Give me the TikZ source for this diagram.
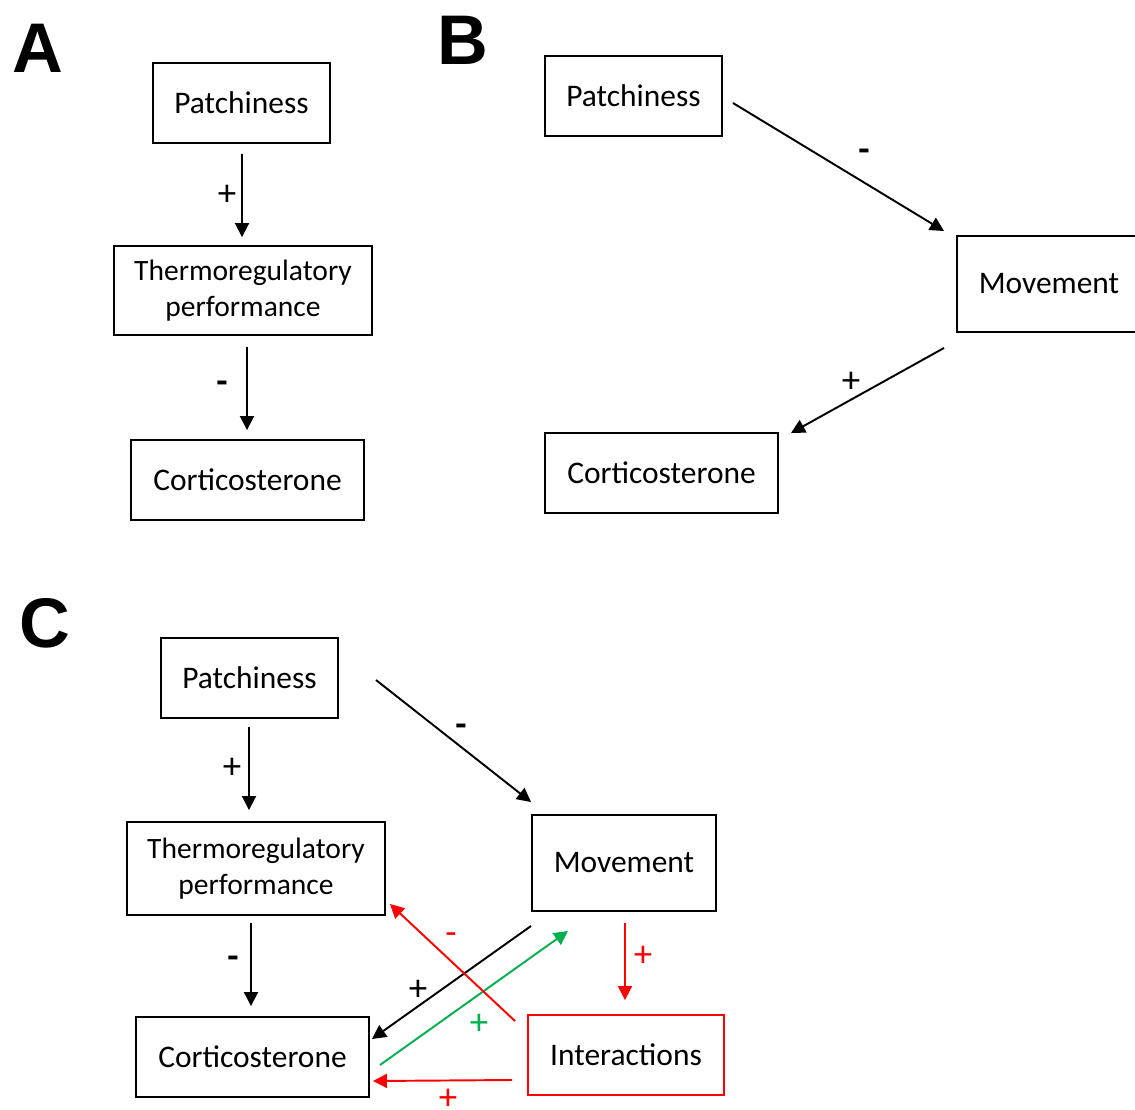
\documentclass[tikz,border=0pt]{standalone}
\usepackage{fontspec}
\setmainfont{Carlito}
\newfontfamily\panelfont{Liberation Sans}
\usetikzlibrary{arrows.meta}
\definecolor{posgreen}{RGB}{0,176,80}
\tikzset{
  box/.style={draw, line width=1.1pt, align=center, inner sep=0pt,
    font=\fontsize{17.9}{20.5}\selectfont},
  twoline/.style={font=\fontsize{16.8}{20.5}\selectfont},
  sign/.style={font=\fontsize{21}{24}\selectfont, inner sep=0pt},
  panel/.style={font=\panelfont\bfseries\fontsize{40}{40}\selectfont, inner sep=0pt},
  link/.style={line width=1.1pt, -{Triangle[length=0.28cm, width=0.28cm]}}
}
\begin{document}
\begin{tikzpicture}[x=0.02cm, y=-0.02cm]
  \useasboundingbox (0,0) rectangle (1135,1109);
  % panel A
  \draw
    (38,48) node[panel] (lA){A}
    (241.5,103) node[box, minimum width=177*0.02cm, minimum height=80*0.02cm] (aP){Patchiness}
    (243,290.5) node[box, twoline, minimum width=258*0.02cm, minimum height=89*0.02cm] (aT){Thermoregulatory\\performance}
    (247.5,480) node[box, minimum width=233*0.02cm, minimum height=80*0.02cm] (aC){Corticosterone};
  % panel B
  \draw
    (463,40) node[panel] (lB){B}
    (633.5,96) node[box, minimum width=177*0.02cm, minimum height=80*0.02cm] (bP){Patchiness}
    (1049,284) node[box, minimum width=184*0.02cm, minimum height=96*0.02cm] (bM){Movement}
    (661.5,473) node[box, minimum width=233*0.02cm, minimum height=80*0.02cm] (bC){Corticosterone};
  % panel C
  \draw
    (45,623) node[panel] (lC){C}
    (249.5,678) node[box, minimum width=177*0.02cm, minimum height=80*0.02cm] (cP){Patchiness}
    (256,868.5) node[box, twoline, minimum width=258*0.02cm, minimum height=93*0.02cm] (cT){Thermoregulatory\\performance}
    (252.5,1057) node[box, minimum width=233*0.02cm, minimum height=80*0.02cm] (cC){Corticosterone}
    (624,863) node[box, minimum width=184*0.02cm, minimum height=96*0.02cm] (cM){Movement}
    (626,1055) node[box, draw=red, minimum width=196*0.02cm, minimum height=80*0.02cm] (cI){Interactions};
  % signs
  \draw
    (227,195) node[sign] (s1){+}
    (222,387) node[sign] (s2){\textbf{-}}
    (864,155) node[sign] (s3){\textbf{-}}
    (851,382) node[sign] (s4){+}
    (232,768) node[sign] (s5){+}
    (233,962) node[sign] (s6){\textbf{-}}
    (461,730) node[sign] (s7){\textbf{-}}
    (643,956) node[sign, red] (s8){+}
    (451,939) node[sign, red] (s9){-}
    (418,990) node[sign] (s10){+}
    (479,1024) node[sign, posgreen] (s11){+}
    (448,1099) node[sign, red] (s12){+};
  \begin{scope}[link]
    \draw ([shift={(0.5,10)}]aP.south) -- ([shift={(-1,-8)}]aT.north);
    \draw ([shift={(4,11)}]aT.south) -- ([shift={(-0.5,-9)}]aC.north);
    \draw ([shift={(10,7)}]bP.east) -- ([shift={(-12,-4)}]bM.north west);
    \draw ([shift={(-12,15)}]bM.south west) -- ([shift={(12,1)}]bC.north east);
    \draw ([shift={(-0.5,8)}]cP.south) -- ([shift={(-7,-11)}]cT.north);
    \draw ([shift={(-5,7)}]cT.south) -- ([shift={(-1.5,-10)}]cC.north);
    \draw ([shift={(37,2)}]cP.east) -- ([shift={(0,-12)}]cM.north west);
    \draw ([shift={(0,14)}]cM.south west) -- ([shift={(2,23)}]cC.north east);
    \draw[posgreen] ([shift={(10,8)}]cC.east) -- ([shift={(37,19)}]cM.south west);
    \draw[red] ([shift={(1,11)}]cM.south) -- ([shift={(-1,-14)}]cI.north);
    \draw[red] ([shift={(-12,7)}]cI.north west) -- ([shift={(4,-12)}]cT.south east);
    \draw[red] ([shift={(-15,25)}]cI.west) -- ([shift={(3,24)}]cC.east);
  \end{scope}
\end{tikzpicture}
\end{document}
